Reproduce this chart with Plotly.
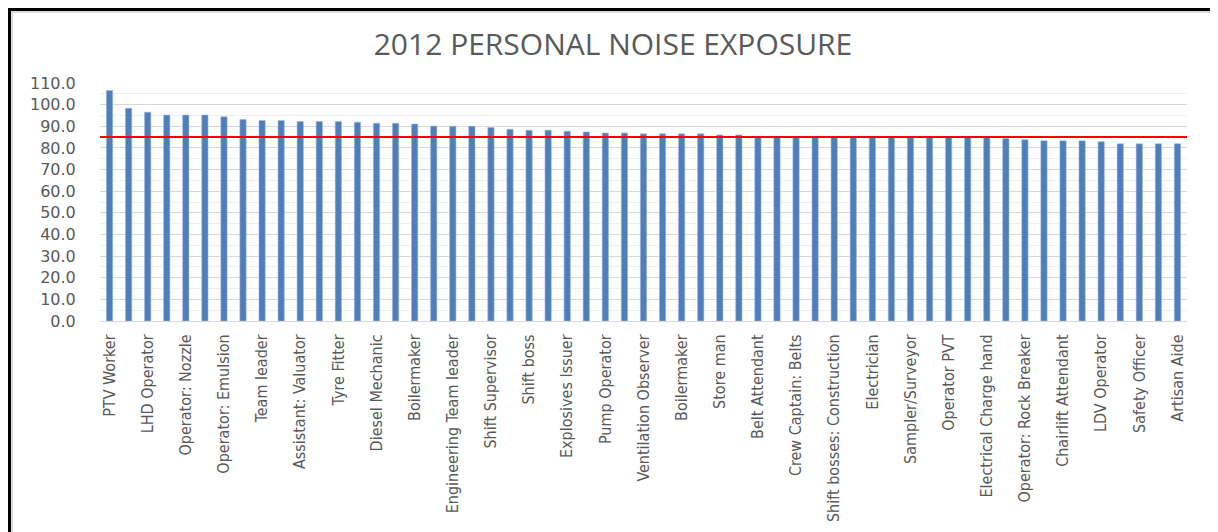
import plotly.graph_objects as go

title_text = "2012 PERSONAL NOISE EXPOSURE"

# Job titles shown on the axis (every second bar is labelled)
labeled_roles = [
    "PTV Worker", "LHD Operator", "Operator: Nozzle", "Operator: Emulsion",
    "Team leader", "Assistant: Valuator", "Tyre Fitter", "Diesel Mechanic",
    "Boilermaker", "Engineering Team leader", "Shift Supervisor", "Shift boss",
    "Explosives Issuer", "Pump Operator", "Ventilation Observer", "Boilermaker",
    "Store man", "Belt Attendant", "Crew Captain: Belts",
    "Shift bosses: Construction", "Electrician", "Sampler/Surveyor",
    "Operator PVT", "Electrical Charge hand", "Operator: Rock Breaker",
    "Chairlift Attendant", "LDV Operator", "Safety Officer", "Artisan Aide",
]

# Noise exposure per bar (dB(A)), 57 bars
noise_values = [
    106.5, 98.3, 96.5, 95.2, 95.2, 95.2, 94.4, 93.1, 92.7, 92.7,
    92.2, 92.2, 92.2, 91.9, 91.4, 91.4, 91.0, 90.1, 90.0, 90.0,
    89.4, 88.6, 88.2, 88.2, 87.7, 87.4, 86.9, 86.9, 86.5, 86.5,
    86.5, 86.5, 86.0, 86.0,
    85.2, 85.2, 85.1, 85.1, 85.1, 85.0, 85.0, 85.0, 85.0, 85.0,
    85.0, 85.0, 84.9,
    84.3, 83.8, 83.3, 83.3, 83.3, 82.9, 81.9, 81.9, 81.9, 81.9,
]

limit_value = 85.0
y_ticks = [0, 10, 20, 30, 40, 50, 60, 70, 80, 90, 100, 110]

bar_positions = list(range(len(noise_values)))
label_positions = bar_positions[::2]

text_color = "#595959"
font_narrow = "Liberation Sans Narrow, DejaVu Sans Condensed, Arial Narrow, sans-serif"

# figure geometry (page has an 8px body margin)
W, H = 1210, 524
L, R, T, B = 92, 31, 75, 211
pw = W - L - R
ph = H - T - B


def px_to_paper_x(px):
    return (px - L) / pw


def px_to_paper_y(py):
    return (H - B - py) / ph


fig = go.Figure()
fig.add_trace(go.Bar(
    x=bar_positions,
    y=noise_values,
    width=0.33,
    marker=dict(color="#4F7EBD", line=dict(color="#9DB7DC", width=0.6)),
    showlegend=False,
))

fig.update_layout(
    width=W,
    height=H,
    margin=dict(l=L, r=R, t=T, b=B, autoexpand=False),
    paper_bgcolor="white",
    plot_bgcolor="white",
    title=dict(
        text=title_text,
        xref="container", x=0.5, xanchor="center",
        yref="container", y=1 - 36 / H, yanchor="middle",
        font=dict(family="Open Sans, sans-serif", size=30, color=text_color),
    ),
    xaxis=dict(
        range=[-0.5, len(noise_values) - 0.5],
        tickmode="array",
        tickvals=label_positions,
        ticktext=labeled_roles,
        tickangle=-90,
        tickfont=dict(family=font_narrow, size=16, color=text_color),
        showgrid=False,
        showline=True,
        linecolor="#D9D9D9",
        ticks="outside",
        ticklen=6,
        tickcolor="rgba(0,0,0,0)",
        automargin=False,
    ),
    yaxis=dict(
        range=[0, 110],
        tickmode="array",
        tickvals=y_ticks,
        tickformat=".1f",
        tickfont=dict(family="DejaVu Sans, sans-serif", size=16, color=text_color),
        showgrid=True,
        gridcolor="#D9D9D9",
        gridwidth=1,
        zeroline=False,
        ticks="outside",
        ticklen=20,
        tickcolor="rgba(0,0,0,0)",
        minor=dict(dtick=5, showgrid=True, gridcolor="#F0F0F0", gridwidth=1),
        automargin=False,
    ),
)

# outer frame of the chart image
fig.add_shape(type="rect", xref="paper", yref="paper",
              x0=px_to_paper_x(1.5), x1=px_to_paper_x(1207.5),
              y0=px_to_paper_y(H + 20), y1=px_to_paper_y(1.5),
              line=dict(color="black", width=3), fillcolor="rgba(0,0,0,0)",
              layer="above")
fig.add_shape(type="rect", xref="paper", yref="paper",
              x0=px_to_paper_x(4), x1=px_to_paper_x(1205),
              y0=px_to_paper_y(H + 20), y1=px_to_paper_y(4),
              line=dict(color="#D0D0D0", width=1.5), fillcolor="rgba(0,0,0,0)",
              layer="above")

# exposure limit line
fig.add_hline(y=limit_value, line=dict(color="#FF0000", width=2), layer="above")

fig.write_html("out.html")
